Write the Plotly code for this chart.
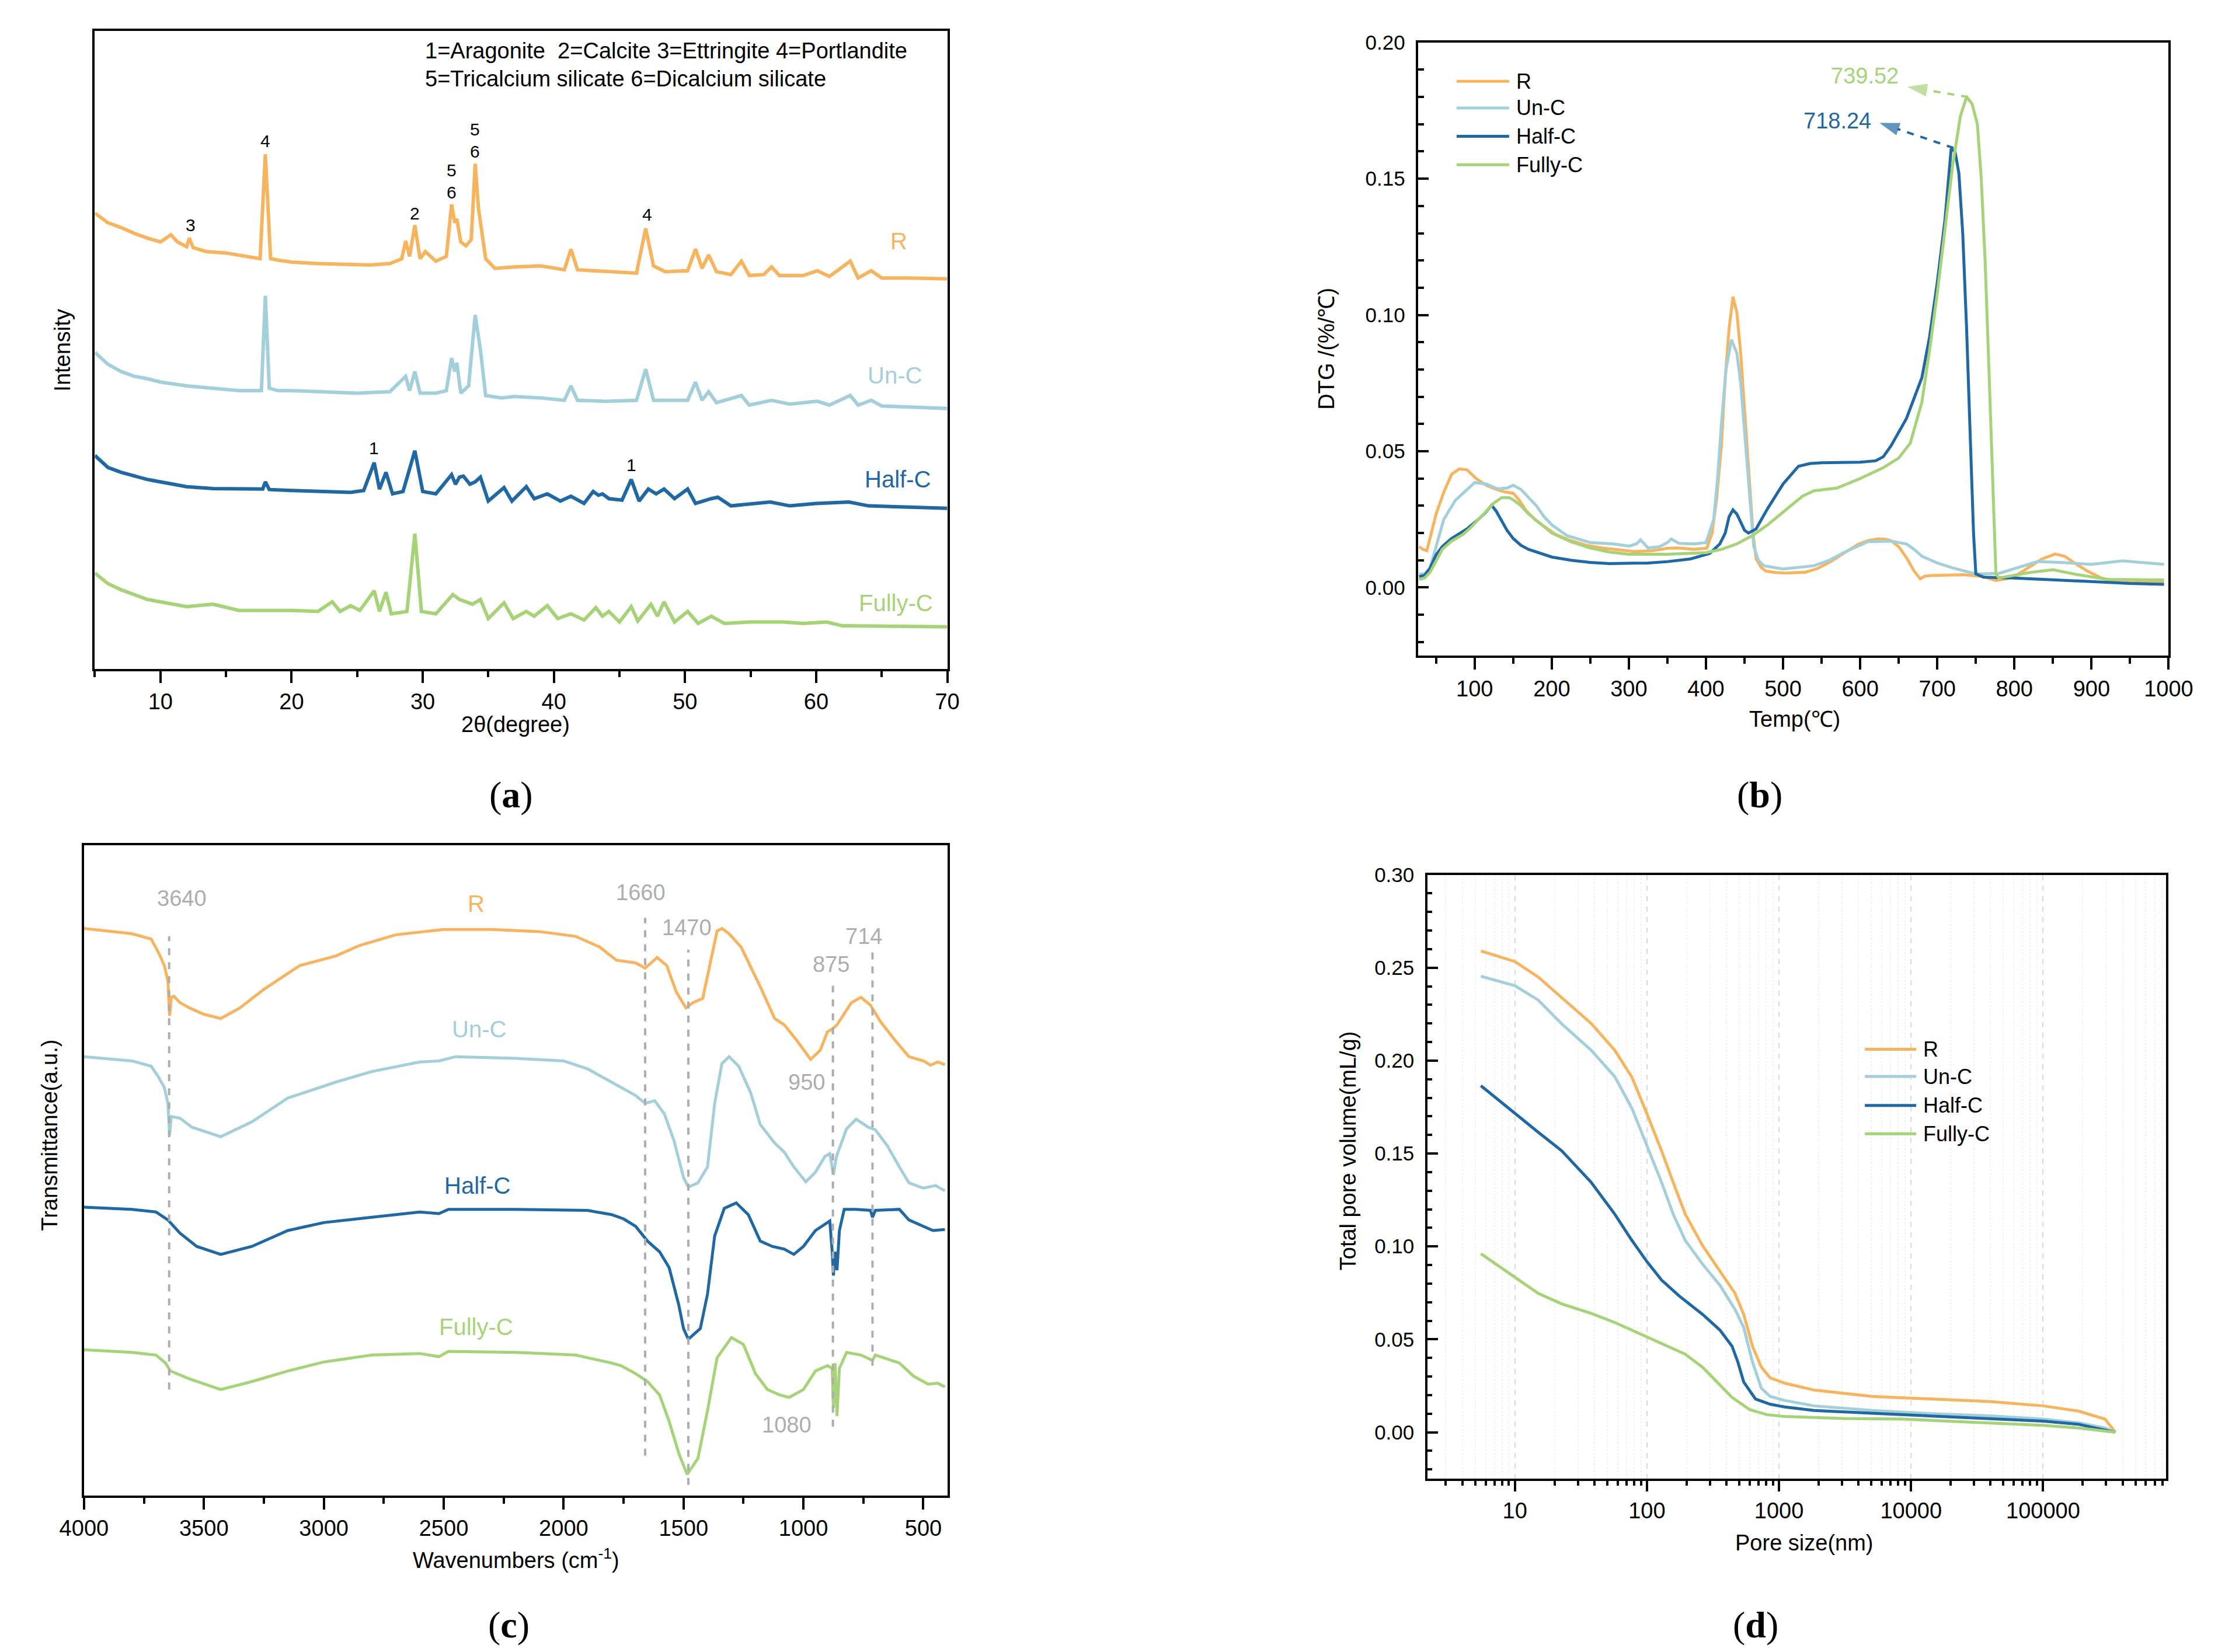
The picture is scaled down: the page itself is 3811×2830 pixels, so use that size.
import plotly.graph_objects as go

W, H = 3811, 2830
FONT = 'Arial, Liberation Sans, sans-serif'
SERIF = 'Times New Roman, Liberation Serif, serif'

names = ['R', 'Un-C', 'Half-C', 'Fully-C']
colors = ['#F7B45F', '#A3CFDA', '#1F68A3', '#A6D378']
gray = '#ADADAD'

# ---- (a) XRD : (2theta, intensity a.u.)
xrd_r = [(5, 950), (6, 930), (7, 920), (8, 908), (9, 898), (10, 890), (10.8, 905), (11.3, 890), (12, 880),
         (12.2, 898), (12.5, 878), (13.5, 870), (15, 867), (16.5, 860), (17.6, 855), (18.0, 1073), (18.4, 855),
         (19, 852), (20, 848), (22, 845), (24, 844), (26, 842), (27.5, 845), (28.4, 855), (28.7, 892),
         (29.0, 860), (29.4, 925), (29.8, 855), (30.2, 870), (31, 850), (31.8, 860), (32.2, 968), (32.45, 930),
         (32.6, 938), (32.9, 890), (33.3, 882), (33.7, 895), (34.0, 1053), (34.25, 960), (34.4, 932),
         (34.8, 855), (35.5, 835), (37, 838), (39, 840), (40.8, 832), (41.3, 875), (41.8, 832), (43, 830),
         (44.5, 828), (46.3, 825), (47.0, 918), (47.6, 840), (48.5, 828), (50.2, 830), (50.8, 875), (51.3, 835),
         (51.8, 863), (52.4, 828), (53.5, 822), (54.3, 850), (54.9, 820), (56, 822), (56.6, 838), (57.2, 820),
         (59, 820), (60.1, 830), (61, 818), (62.6, 850), (63.2, 815), (64.2, 830), (65, 815), (67, 815), (70, 813)]
xrd_u = [(5, 660), (6, 635), (7, 620), (8, 610), (9, 605), (10, 598), (12, 590), (14, 585), (16, 580),
         (17.7, 580), (18.0, 778), (18.3, 585), (19, 580), (20, 580), (22, 578), (25, 575), (27.5, 578),
         (28.7, 610), (29.0, 580), (29.4, 620), (29.8, 575), (31, 575), (31.8, 580), (32.2, 648), (32.45, 620),
         (32.6, 638), (32.9, 575), (33.5, 590), (34.0, 738), (34.25, 690), (34.4, 665), (34.8, 570), (36, 565),
         (37, 568), (39, 565), (40.8, 560), (41.3, 590), (41.8, 560), (44, 558), (46.3, 560), (47.0, 625),
         (47.6, 560), (50.2, 560), (50.8, 598), (51.3, 560), (51.8, 578), (52.4, 555), (54.3, 570), (54.9, 550),
         (56.6, 560), (58, 552), (60.1, 558), (61, 550), (62.6, 570), (63.2, 550), (64.2, 560), (65, 548),
         (70, 543)]
xrd_h = [(5, 445), (6, 420), (7, 410), (8, 402), (9, 395), (10, 390), (12, 380), (14, 376), (16, 375),
         (17.8, 375), (18.0, 390), (18.3, 374), (20, 372), (22, 370), (24.5, 368), (25.5, 372), (26.3, 430),
         (26.7, 375), (27.2, 410), (27.7, 365), (28.5, 370), (29.4, 455), (30.0, 370), (31, 365), (32.2, 405),
         (32.5, 385), (32.8, 400), (33.1, 402), (33.6, 385), (34.0, 390), (34.4, 400), (35.0, 350), (36.2, 378),
         (36.8, 350), (37.9, 380), (38.5, 355), (39.5, 365), (40.5, 350), (41.3, 360), (42.3, 345), (43.0, 370),
         (43.4, 362), (43.7, 365), (44.2, 355), (45.2, 352), (45.9, 395), (46.5, 350), (47.2, 375), (47.8, 365),
         (48.4, 375), (49.2, 355), (50.2, 375), (50.8, 345), (52, 355), (52.5, 358), (53.5, 340), (56.5, 348),
         (58, 340), (60, 345), (62.5, 348), (64, 340), (70, 335)]
xrd_f = [(5, 200), (6, 178), (7, 165), (8, 155), (9, 145), (10, 140), (12, 130), (14, 135), (16, 122),
         (18, 122), (20, 122), (22, 120), (23.1, 140), (23.7, 120), (24.5, 132), (25.2, 122), (26.3, 163),
         (26.7, 120), (27.2, 160), (27.6, 115), (28.8, 120), (29.4, 282), (29.9, 120), (31, 115), (32.3, 155),
         (32.8, 145), (33.3, 140), (33.8, 135), (34.4, 145), (35.0, 105), (36.2, 138), (36.9, 105), (37.9, 120),
         (38.5, 110), (39.5, 132), (40.3, 105), (41.3, 115), (42.3, 102), (43.2, 128), (43.7, 110), (44.2, 120),
         (45.0, 98), (45.9, 130), (46.4, 100), (47.4, 135), (47.9, 110), (48.4, 140), (49.2, 98), (50.2, 120),
         (51.0, 95), (52.0, 110), (53.0, 95), (55, 98), (57.5, 98), (59, 95), (60.8, 98), (62, 90), (70, 88)]
xrd_name_pos = [(66.3, 892), (66.0, 612), (66.2, 395), (66.1, 138)]
xrd_peak_labels = [(12.3, 925, '3'), (18.0, 1100, '4'), (29.4, 950, '2'), (32.2, 1040, '5'), (32.2, 993, '6'),
                   (34.0, 1125, '5'), (34.0, 1078, '6'), (47.1, 947, '4'), (26.3, 460, '1'), (45.9, 425, '1')]
xrd_key = ['1=Aragonite\u00a0\u00a02=Calcite 3=Ettringite 4=Portlandite',
           '5=Tricalcium silicate 6=Dicalcium silicate']

# ---- (b) DTG : (temperature C, %/C)
dtg_r = [(28, 0.0150), (33, 0.0140), (38, 0.0135), (43, 0.0190), (50, 0.0270), (60, 0.0350), (70, 0.0415),
         (80, 0.0435), (90, 0.0432), (102, 0.0400), (115, 0.0375), (128, 0.0360), (140, 0.0350), (150, 0.0346),
         (158, 0.0320), (166, 0.0285), (178, 0.0250), (190, 0.0225), (205, 0.0195), (222, 0.0175),
         (245, 0.0155), (265, 0.0145), (290, 0.0137), (307, 0.0132), (330, 0.0135), (350, 0.0144),
         (365, 0.0145), (384, 0.0140), (401, 0.0144), (408, 0.0200), (414, 0.0330), (420, 0.0520),
         (425, 0.0770), (430, 0.0950), (435, 0.1067), (440, 0.1010), (445, 0.0860), (451, 0.0620),
         (457, 0.0370), (461, 0.0200), (465, 0.0105), (472, 0.0072), (478, 0.0060), (490, 0.0055),
         (504, 0.0053), (529, 0.0056), (545, 0.0070), (563, 0.0097), (580, 0.0128), (597, 0.0158),
         (610, 0.0172), (623, 0.0179), (632, 0.0178), (640, 0.0172), (650, 0.0150), (661, 0.0105),
         (670, 0.0060), (678, 0.0032), (684, 0.0042), (691, 0.0044), (734, 0.0047), (760, 0.0040),
         (776, 0.0026), (790, 0.0032), (802, 0.0044), (820, 0.0075), (836, 0.0105), (853, 0.0123),
         (865, 0.0115), (879, 0.0088), (895, 0.0060), (913, 0.0035), (939, 0.0018), (970, 0.0020), (994, 0.0021)]
dtg_u = [(28, 0.0050), (35, 0.0050), (42, 0.0070), (50, 0.0150), (60, 0.0250), (75, 0.0320), (90, 0.0360),
         (100, 0.0385), (115, 0.0380), (130, 0.0362), (142, 0.0365), (150, 0.0375), (160, 0.0360),
         (170, 0.0330), (180, 0.0300), (190, 0.0260), (200, 0.0230), (220, 0.0190), (250, 0.0165),
         (280, 0.0160), (300, 0.0152), (310, 0.0160), (315, 0.0175), (320, 0.0160), (325, 0.0145),
         (340, 0.0150), (350, 0.0165), (355, 0.0178), (365, 0.0162), (385, 0.0160), (400, 0.0165),
         (410, 0.0250), (415, 0.0400), (420, 0.0600), (426, 0.0800), (433, 0.0910), (440, 0.0860),
         (445, 0.0750), (450, 0.0580), (455, 0.0400), (459, 0.0250), (462, 0.0150), (468, 0.0100),
         (475, 0.0080), (500, 0.0068), (540, 0.0080), (560, 0.0100), (580, 0.0130), (610, 0.0168),
         (640, 0.0170), (660, 0.0160), (670, 0.0140), (680, 0.0115), (700, 0.0090), (720, 0.0072),
         (750, 0.0050), (780, 0.0052), (795, 0.0065), (810, 0.0080), (830, 0.0095), (860, 0.0092),
         (900, 0.0085), (940, 0.0098), (970, 0.0092), (994, 0.0085)]
dtg_h = [(28, 0.0040), (35, 0.0045), (42, 0.0070), (50, 0.0120), (58, 0.0150), (70, 0.0180), (90, 0.0215),
         (105, 0.0250), (114, 0.0275), (122, 0.0302), (128, 0.0280), (135, 0.0245), (142, 0.0210),
         (150, 0.0180), (160, 0.0155), (170, 0.0140), (185, 0.0125), (200, 0.0112), (225, 0.0100),
         (250, 0.0092), (275, 0.0088), (300, 0.0088), (325, 0.0090), (350, 0.0095), (380, 0.0105),
         (405, 0.0125), (418, 0.0160), (425, 0.0200), (430, 0.0260), (435, 0.0285), (440, 0.0270),
         (445, 0.0240), (450, 0.0210), (455, 0.0200), (465, 0.0215), (480, 0.0290), (500, 0.0380),
         (520, 0.0445), (535, 0.0455), (550, 0.0458), (600, 0.0460), (620, 0.0465), (630, 0.0480),
         (640, 0.0520), (660, 0.0620), (680, 0.0770), (690, 0.0920), (700, 0.1120), (710, 0.1350),
         (718, 0.1610), (723, 0.1600), (728, 0.1520), (733, 0.1300), (738, 0.0950), (743, 0.0500),
         (747, 0.0200), (750, 0.0050), (760, 0.0038), (800, 0.0035), (850, 0.0028), (900, 0.0022),
         (950, 0.0015), (994, 0.0012)]
dtg_f = [(28, 0.0030), (35, 0.0035), (42, 0.0055), (50, 0.0100), (58, 0.0140), (70, 0.0170), (85, 0.0195),
         (95, 0.0220), (105, 0.0250), (115, 0.0280), (125, 0.0310), (135, 0.0330), (145, 0.0330),
         (152, 0.0318), (160, 0.0300), (170, 0.0270), (185, 0.0235), (200, 0.0200), (225, 0.0168),
         (250, 0.0145), (275, 0.0130), (300, 0.0122), (350, 0.0122), (400, 0.0128), (420, 0.0140),
         (440, 0.0160), (460, 0.0190), (480, 0.0230), (495, 0.0265), (510, 0.0300), (525, 0.0335),
         (540, 0.0355), (570, 0.0365), (600, 0.0400), (630, 0.0440), (650, 0.0475), (665, 0.0530),
         (680, 0.0680), (690, 0.0870), (700, 0.1080), (710, 0.1320), (720, 0.1550), (730, 0.1730),
         (738, 0.1800), (745, 0.1775), (752, 0.1700), (757, 0.1500), (762, 0.1200), (767, 0.0800),
         (772, 0.0350), (776, 0.0050), (780, 0.0035), (820, 0.0055), (850, 0.0065), (880, 0.0048),
         (920, 0.0030), (960, 0.0028), (994, 0.0028)]
# peak callouts: peak point, arrow tip, label position, label, colour index
dtg_peaks = [((740, 0.1800), (661, 0.1837), (606, 0.1877), '739.52', 3),
             ((721, 0.1613), (625, 0.1705), (570, 0.1713), '718.24', 2)]

# ---- (c) FTIR : (wavenumber cm-1, transmittance a.u.)
ftir_r = [(4000, 1070), (3900, 1065), (3800, 1060), (3720, 1050), (3690, 1025), (3665, 1000), (3650, 970),
          (3643, 905), (3636, 940), (3625, 942), (3600, 930), (3560, 920), (3500, 908), (3430, 900),
          (3350, 920), (3250, 955), (3100, 1000), (2950, 1018), (2850, 1038), (2700, 1058), (2500, 1068),
          (2300, 1068), (2100, 1064), (1950, 1055), (1850, 1035), (1780, 1010), (1700, 1005), (1660, 995),
          (1610, 1015), (1570, 1000), (1530, 950), (1490, 920), (1460, 930), (1420, 938), (1390, 1000),
          (1360, 1065), (1340, 1070), (1310, 1060), (1260, 1035), (1180, 960), (1120, 900), (1080, 888),
          (1030, 860), (970, 823), (930, 840), (900, 875), (880, 880), (860, 888), (800, 930), (760, 940),
          (720, 925), (680, 895), (620, 860), (560, 828), (500, 820), (470, 812), (440, 818), (410, 813)]
ftir_u = [(4000, 828), (3800, 820), (3720, 810), (3690, 790), (3665, 770), (3650, 740), (3643, 680),
          (3636, 715), (3600, 712), (3550, 695), (3430, 677), (3300, 705), (3150, 750), (2950, 780),
          (2800, 800), (2600, 818), (2520, 820), (2450, 828), (2200, 825), (2000, 820), (1900, 805),
          (1800, 780), (1700, 755), (1660, 740), (1620, 745), (1580, 720), (1540, 670), (1500, 600),
          (1480, 582), (1440, 590), (1400, 620), (1370, 740), (1340, 815), (1310, 828), (1270, 810),
          (1220, 760), (1180, 700), (1120, 665), (1080, 648), (1040, 620), (990, 592), (950, 610), (910, 640),
          (890, 645), (875, 605), (862, 640), (820, 692), (780, 710), (730, 695), (700, 690), (650, 660),
          (600, 620), (560, 590), (500, 580), (450, 585), (410, 575)]
ftir_h = [(4000, 544), (3800, 540), (3700, 535), (3650, 520), (3600, 495), (3530, 470), (3430, 455),
          (3300, 470), (3150, 500), (3000, 515), (2800, 525), (2600, 535), (2520, 532), (2480, 540),
          (2200, 540), (1900, 538), (1800, 530), (1750, 522), (1700, 508), (1650, 480), (1600, 460),
          (1560, 430), (1520, 360), (1500, 315), (1480, 295), (1430, 315), (1400, 380), (1370, 490),
          (1330, 542), (1280, 552), (1230, 530), (1180, 480), (1130, 470), (1080, 465), (1040, 455),
          (1000, 470), (950, 500), (890, 518), (880, 460), (875, 415), (868, 460), (860, 425), (850, 500),
          (830, 540), (780, 540), (720, 538), (712, 525), (700, 538), (600, 540), (560, 520), (500, 508),
          (460, 500), (410, 502)]
ftir_f = [(4000, 275), (3800, 270), (3700, 265), (3660, 250), (3640, 235), (3560, 220), (3430, 200),
          (3300, 215), (3150, 235), (3000, 252), (2800, 265), (2600, 268), (2520, 262), (2480, 272),
          (2200, 270), (1950, 265), (1800, 250), (1760, 245), (1700, 230), (1650, 215), (1600, 190),
          (1560, 140), (1520, 80), (1485, 40), (1440, 70), (1400, 160), (1360, 260), (1300, 298),
          (1250, 285), (1200, 230), (1150, 200), (1100, 190), (1060, 185), (1000, 200), (950, 235),
          (900, 245), (880, 240), (875, 165), (868, 250), (860, 150), (850, 240), (820, 270), (760, 265),
          (712, 255), (700, 265), (600, 250), (540, 225), (480, 210), (440, 212), (410, 205)]
ftir_name_pos = [(2365, 1117), (2353, 880), (2360, 585), (2365, 318)]
# reference bands: line position, line bottom, line top
ftir_bands = [(3645, 200, 1055), (1660, 75, 1090), (1480, 20, 1030), (877, 130, 962), (712, 245, 1025)]
ftir_band_labels = [(3592, 1127, '3640'), (1678, 1138, '1660'), (1485, 1072, '1470'), (885, 1002, '875'),
                    (749, 1055, '714'), (987, 780, '950'), (1070, 133, '1080')]

# ---- (d) MIP : (pore size nm, cumulative volume mL/g)
pore_r = [(5.52, 0.2590), (10, 0.2533), (15, 0.2450), (22.6, 0.2340), (37.8, 0.2200), (57, 0.2056),
          (77, 0.1910), (100, 0.1714), (129, 0.1515), (158, 0.1345), (195, 0.1174), (264, 0.1004),
          (358, 0.0862), (464, 0.0748), (541, 0.0634), (630, 0.0463), (736, 0.0350), (857, 0.0293),
          (1109, 0.0264), (1846, 0.0227), (5100, 0.0193), (14300, 0.0179), (39700, 0.0165), (100000, 0.0142),
          (185000, 0.0114), (294000, 0.0071), (353000, 0.0)]
pore_u = [(5.52, 0.2454), (10, 0.2403), (15, 0.2326), (22.6, 0.2198), (37.8, 0.2056), (57, 0.1914),
          (77, 0.1743), (100, 0.1544), (129, 0.1345), (158, 0.1174), (195, 0.1032), (264, 0.0904),
          (358, 0.0790), (464, 0.0662), (541, 0.0563), (630, 0.0378), (736, 0.0236), (857, 0.0193),
          (1109, 0.0171), (1846, 0.0142), (5100, 0.0117), (14300, 0.0100), (39700, 0.0088), (100000, 0.0071),
          (185000, 0.0051), (294000, 0.0023), (353000, 0.0)]
pore_h = [(5.52, 0.1865), (10, 0.1715), (15, 0.1615), (22.6, 0.1515), (37.8, 0.1345), (57, 0.1174),
          (77, 0.1032), (100, 0.0918), (129, 0.0819), (175, 0.0734), (264, 0.0634), (358, 0.0549),
          (441, 0.0463), (488, 0.0378), (541, 0.0270), (664, 0.0179), (857, 0.0151), (1109, 0.0136),
          (1846, 0.0117), (5100, 0.0102), (14300, 0.0088), (39700, 0.0071), (100000, 0.0060),
          (185000, 0.0043), (294000, 0.0014), (353000, 0.0)]
pore_f = [(5.52, 0.0961), (10, 0.0833), (15, 0.0748), (22.6, 0.0691), (37.8, 0.0640), (57, 0.0591),
          (85.8, 0.0535), (129, 0.0478), (194, 0.0421), (264, 0.0350), (359, 0.0250), (441, 0.0188),
          (599, 0.0122), (815, 0.0094), (1109, 0.0085), (3084, 0.0074), (8577, 0.0071), (23870, 0.0057),
          (100000, 0.0037), (185000, 0.0023), (353000, 0.0)]
pore_ticks = [10, 100, 1000, 10000, 100000]


def px(x):
    return x / W


def py(y):
    return 1 - y / H


fig = go.Figure()


def curve(data, color, xa, ya, width=4.0, dash='solid', marker=None):
    fig.add_trace(go.Scatter(x=[p[0] for p in data], y=[p[1] for p in data],
                             mode='lines+markers' if marker else 'lines', marker=marker,
                             line=dict(color=color, width=width, dash=dash),
                             xaxis=xa, yaxis=ya, showlegend=False, hoverinfo='skip'))


def label(x, y, s, size=38, color='black', xref='paper', yref='paper', angle=0, xanchor='center', family=FONT):
    fig.add_annotation(x=x, y=y, text=s, xref=xref, yref=yref, showarrow=False, textangle=angle,
                       xanchor=xanchor, yanchor='middle', font=dict(size=size, color=color, family=family))


# (a)
for d, c in zip([xrd_r, xrd_u, xrd_h, xrd_f], colors):
    curve(d, c, 'x', 'y', 6)
for (x, y), n, c in zip(xrd_name_pos, names, colors):
    label(x, y, n, 40, c, 'x', 'y')
for x, y, s in xrd_peak_labels:
    label(x, y, s, 30, 'black', 'x', 'y')
label(30.1, 1288, xrd_key[0], 38, 'black', 'x', 'y', xanchor='left')
label(30.1, 1230, xrd_key[1], 38, 'black', 'x', 'y', xanchor='left')

# (b)
for d, c in zip([dtg_r, dtg_u, dtg_h, dtg_f], colors):
    curve(d, c, 'x2', 'y2', 5)
for peak, tip, pos, s, ci in dtg_peaks:
    c = colors[ci]
    curve([peak, tip], c, 'x2', 'y2', 4, 'dash',
          marker=dict(symbol='arrow', size=[0, 36], angleref='previous', color=c, line=dict(width=0)))
    label(pos[0], pos[1], s, 38, c, 'x2', 'y2')

# (c)
for d, c in zip([ftir_r, ftir_u, ftir_h, ftir_f], colors):
    curve(d, c, 'x3', 'y3', 5)
for x, lo, hi in ftir_bands:
    curve([(x, lo), (x, hi)], gray, 'x3', 'y3', 4, 'dash')
for (x, y), n, c in zip(ftir_name_pos, names, colors):
    label(x, y, n, 40, c, 'x3', 'y3')
for x, y, s in ftir_band_labels:
    label(x, y, s, 38, gray, 'x3', 'y3')

# (d)
for d, c in zip([pore_r, pore_u, pore_h, pore_f], colors):
    curve(d, c, 'x4', 'y4', 5)

# legends of (b) and (d), drawn by hand so the line samples are long like the original
for i, (n, c) in enumerate(zip(names, colors)):
    for x0, x1, tx, ys in [(2500, 2592, 2602, [112, 158, 207, 256]), (3215, 3305, 3315, [1782, 1829, 1879, 1928])]:
        fig.add_shape(type='line', xref='paper', yref='paper', x0=px(x0), x1=px(x1), y0=py(ys[i]), y1=py(ys[i]),
                      line=dict(color=c, width=5))
        label(px(tx), py(ys[i]), n, 36, 'black', xanchor='left')

# axis titles and panel letters
label(px(852), py(1222), '2θ(degree)')
label(px(58), py(576), 'Intensity', angle=-90)
label(px(2272), py(573), 'DTG /(%/℃)', angle=-90)
label(px(3092), py(1213), 'Temp(℃)')
label(px(36), py(1930), 'Transmittance(a.u.)', angle=-90)
label(px(853), py(2661), 'Wavenumbers (cm<sup>-1</sup>)')
label(px(2310), py(1957), 'Total pore volume(mL/g)', angle=-90)
label(px(3109), py(2634), 'Pore size(nm)')
for x, y, s in [(844, 1343, 'a'), (3031, 1343, 'b'), (840, 2775, 'c'), (3024, 2775, 'd')]:
    label(px(x), py(y), '(<b>' + s + '</b>)', 64, family=SERIF)

frames = {'': (115, 1608, 25, 1126), '2': (2433, 3747, 45, 1103),
          '3': (96, 1608, 1430, 2552), '4': (2449, 3742, 1481, 2523)}

base = dict(showline=True, linecolor='black', linewidth=3.5, mirror=True, showgrid=False, zeroline=False,
            tickcolor='black', tickwidth=3.5, tickfont=dict(size=38, family=FONT, color='black'))
layout = {}
for k, (l, r, t, b) in frames.items():
    layout['xaxis' + k] = dict(base, domain=[px(l), px(r)], anchor='y' + k)
    layout['yaxis' + k] = dict(base, domain=[py(b), py(t)], anchor='x' + k)

layout['xaxis'].update(range=[5, 70], dtick=10, tick0=0, ticks='outside', ticklen=20,
                       minor=dict(dtick=5, tick0=0, ticks='outside', ticklen=10, tickwidth=3.5, tickcolor='black'))
layout['yaxis'].update(range=[0, 1330], ticks='', showticklabels=False)

layout['xaxis2'].update(range=[27, 1000], dtick=100, tick0=0, ticks='outside', ticklen=20,
                        minor=dict(dtick=50, tick0=0, ticks='outside', ticklen=10, tickwidth=3.5, tickcolor='black'))
layout['yaxis2'].update(range=[-0.025, 0.2], dtick=0.05, tick0=0, tickformat='.2f', ticks='inside', ticklen=18,
                        ticklabelstandoff=12, tickfont=dict(size=35, family=FONT, color='black'),
                        minor=dict(dtick=0.01, tick0=0, ticks='inside', ticklen=10, tickwidth=3.5, tickcolor='black'))

layout['xaxis3'].update(range=[4000, 400], dtick=500, tick0=0, ticks='outside', ticklen=20,
                        minor=dict(dtick=250, tick0=0, ticks='outside', ticklen=10, tickwidth=3.5, tickcolor='black'))
layout['yaxis3'].update(range=[0, 1227], ticks='', showticklabels=False)

minor_vals = [k * 10 ** e for e in range(0, 6) for k in range(2, 10)]
layout['xaxis4'].update(type='log', range=[0.338, 5.929], tickvals=pore_ticks, ticktext=[str(v) for v in pore_ticks],
                        ticks='outside', ticklen=18, showgrid=True, gridcolor='#DADADA', griddash='dash', gridwidth=2,
                        minor=dict(tickvals=minor_vals, ticks='outside', ticklen=8, tickwidth=3.5, tickcolor='black',
                                   showgrid=True, gridcolor='#F0F0F0', griddash='dot', gridwidth=2))
layout['yaxis4'].update(range=[-0.025, 0.30], dtick=0.05, tick0=0, tickformat='.2f', ticks='inside', ticklen=18,
                        ticklabelstandoff=12, tickfont=dict(size=35, family=FONT, color='black'),
                        minor=dict(dtick=0.01, tick0=0, ticks='inside', ticklen=8, tickwidth=3.5, tickcolor='black'))

fig.update_layout(width=W, height=H, autosize=False, margin=dict(l=0, r=0, t=0, b=0),
                  paper_bgcolor='white', plot_bgcolor='white', showlegend=False,
                  font=dict(family=FONT, color='black'), **layout)

fig.write_html("out.html")
